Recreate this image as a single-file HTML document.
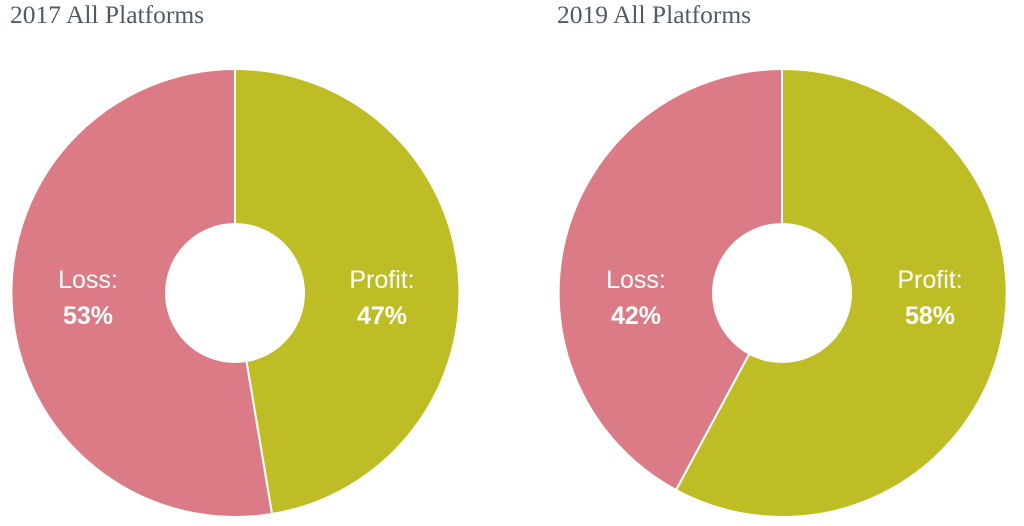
<!DOCTYPE html>
<html><head><style>body{margin:0;background:#fff}svg{display:block}</style></head>
<body>
<svg width="1024" height="526" viewBox="0 0 1024 526">
<g font-family="Liberation Serif, serif" font-size="25.5" fill="#4f5b66">
<text x="10" y="23">2017 All Platforms</text>
<text x="557" y="23">2019 All Platforms</text>
</g>
<g stroke="#fff" stroke-width="2">
<path d="M235,293 L235,69 A224,224 0 0 1 272,514 Z" fill="#bfbd25"/>
<path d="M235,293 L272,514 A224,224 0 1 1 235,69 Z" fill="#db7b85"/>
<path d="M782,293 L782,69 A224,224 0 1 1 676,490 Z" fill="#bfbd25"/>
<path d="M782,293 L676,490 A224,224 0 0 1 782,69 Z" fill="#db7b85"/>
</g>
<circle cx="235" cy="293" r="70" fill="#fff"/>
<circle cx="782" cy="293" r="70" fill="#fff"/>
<g font-family="Liberation Sans, sans-serif" font-size="25" fill="#fff" text-anchor="middle">
<text x="88" y="288">Loss:</text><text x="88" y="324" font-weight="bold">53%</text>
<text x="382" y="288">Profit:</text><text x="382" y="324" font-weight="bold">47%</text>
<text x="636" y="288">Loss:</text><text x="636" y="324" font-weight="bold">42%</text>
<text x="930" y="288">Profit:</text><text x="930" y="324" font-weight="bold">58%</text>
</g>
</svg>
</body></html>
